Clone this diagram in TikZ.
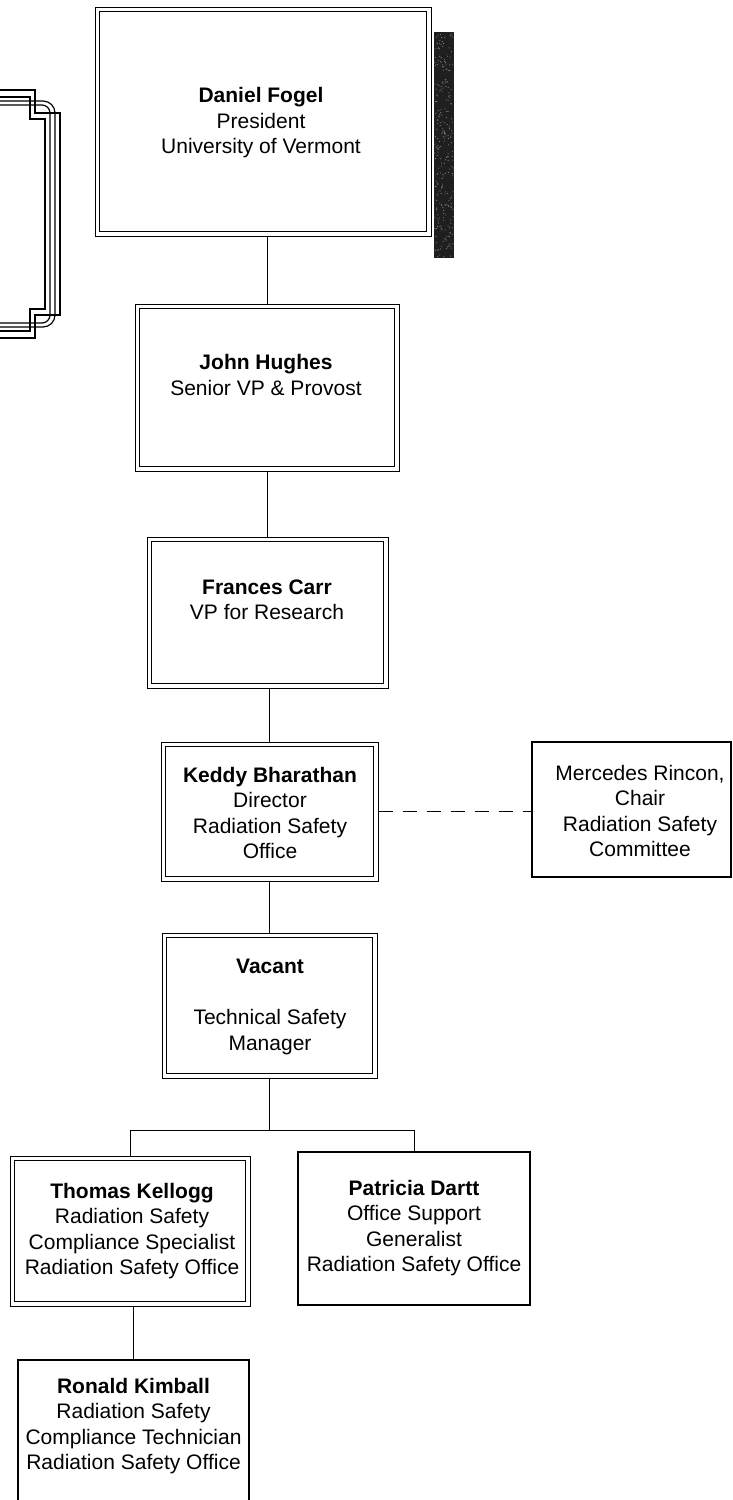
\documentclass[tikz,border=0pt]{standalone}
\usepackage{fontspec}
\setmainfont{Liberation Sans}
\begin{document}
\begin{tikzpicture}[x=1pt,y=-1pt,
  obox/.style={draw, line width=1pt, inner sep=0pt, fill=none},
  sbox/.style={draw, line width=1.3pt, inner sep=0pt},
  innerline/.style={line width=1.6pt},
  txt/.style={align=center, inner sep=0pt, font=\fontsize{21}{25.5}\selectfont},
  conn/.style={line width=0.9pt},
  frame/.style={line width=1.2pt}]
\useasboundingbox (0,0) rectangle (732,1500);
\clip (0,0) rectangle (732,1500);

% left partial frame
\draw[frame] (0,90) -- (35,90) -- (35,113) -- (60,113) -- (60,315) -- (35,315) -- (35,338) -- (0,338);
\draw[frame] (0,97) -- (30,97) -- (30,119) -- (45,119) -- (45,309) -- (30,309) -- (30,331) -- (0,331);
\draw[frame, rounded corners=12pt] (0,101) -- (55,101) -- (55,327) -- (0,327);
\draw[frame, rounded corners=8pt] (0,105) -- (50,105) -- (50,323) -- (0,323);

% shaded bar
\fill[black!88] (434,32) rectangle (454,258);
\pgfmathsetseed{7}
\foreach \i in {1,...,260}
  \fill[black!45] ({434.8+18.4*rnd},{33+224*rnd}) circle (0.55);

% boxes
\node[obox, minimum width=336, minimum height=229] (fogel) at (263,121.5) {};
\node[obox, minimum width=264, minimum height=167] (hughes) at (267,387.5) {};
\node[obox, minimum width=241, minimum height=151] (carr) at (267.5,612.5) {};
\node[obox, minimum width=217, minimum height=139] (keddy) at (269.5,811.5) {};
\node[sbox, minimum width=199, minimum height=135] (rincon) at (631.5,809.5) {};
\node[obox, minimum width=215, minimum height=145] (vacant) at (269.5,1005.5) {};
\node[obox, minimum width=240, minimum height=150] (kellogg) at (130,1231) {};
\node[sbox, minimum width=232, minimum height=153] (dartt) at (414,1228.5) {};
\node[sbox, minimum width=231, minimum height=160] (kimball) at (133.5,1440) {};

\foreach \n in {fogel,hughes,carr,keddy,vacant,kellogg}
  \draw[innerline] ([shift={(5,5)}]\n.north west) rectangle ([shift={(-5,-5)}]\n.south east);

% texts
\node[txt] (fogelt) at (261,123) {\textbf{Daniel Fogel}\\President\\University of Vermont};
\node[txt] (hughest) at (266,375) {\textbf{John Hughes}\\Senior VP \& Provost};
\node[txt] (carrt) at (267,600) {\textbf{Frances Carr}\\VP for Research};
\node[txt] (keddyt) at (270,813) {\textbf{Keddy Bharathan}\\Director\\Radiation Safety\\Office};
\node[txt] (rincont) at (640,811) {Mercedes Rincon,\\Chair\\Radiation Safety\\Committee};
\node[txt] (vacantt) at (270,1007) {\textbf{Vacant}\\\mbox{}\\Technical Safety\\Manager};
\node[txt] (kelloggt) at (132,1231) {\textbf{Thomas Kellogg}\\Radiation Safety\\Compliance Specialist\\Radiation Safety Office};
\node[txt] (darttt) at (414,1228) {\textbf{Patricia Dartt}\\Office Support\\Generalist\\Radiation Safety Office};
\node[txt] (kimballt) at (133.5,1426) {\textbf{Ronald Kimball}\\Radiation Safety\\Compliance Technician\\Radiation Safety Office};

% connectors
\coordinate (bus) at (270,1130);
\draw[conn] (hughes.north |- fogel.south) -- (hughes.north);
\draw[conn] (carr.north |- hughes.south) -- (carr.north);
\draw[conn] (keddy.north |- carr.south) -- (keddy.north);
\draw[conn] (keddy.south) -- (vacant.north);
\draw[conn, dash pattern=on 14pt off 10pt] (keddy.east) -- (keddy.east -| rincon.west);
\draw[conn] (vacant.south) -- (vacant.south |- bus);
\draw[conn] (kellogg.north) -- (kellogg.north |- bus) -- (dartt.north |- bus) -- (dartt.north);
\draw[conn] (kimball.north |- kellogg.south) -- (kimball.north);
\end{tikzpicture}
\end{document}
